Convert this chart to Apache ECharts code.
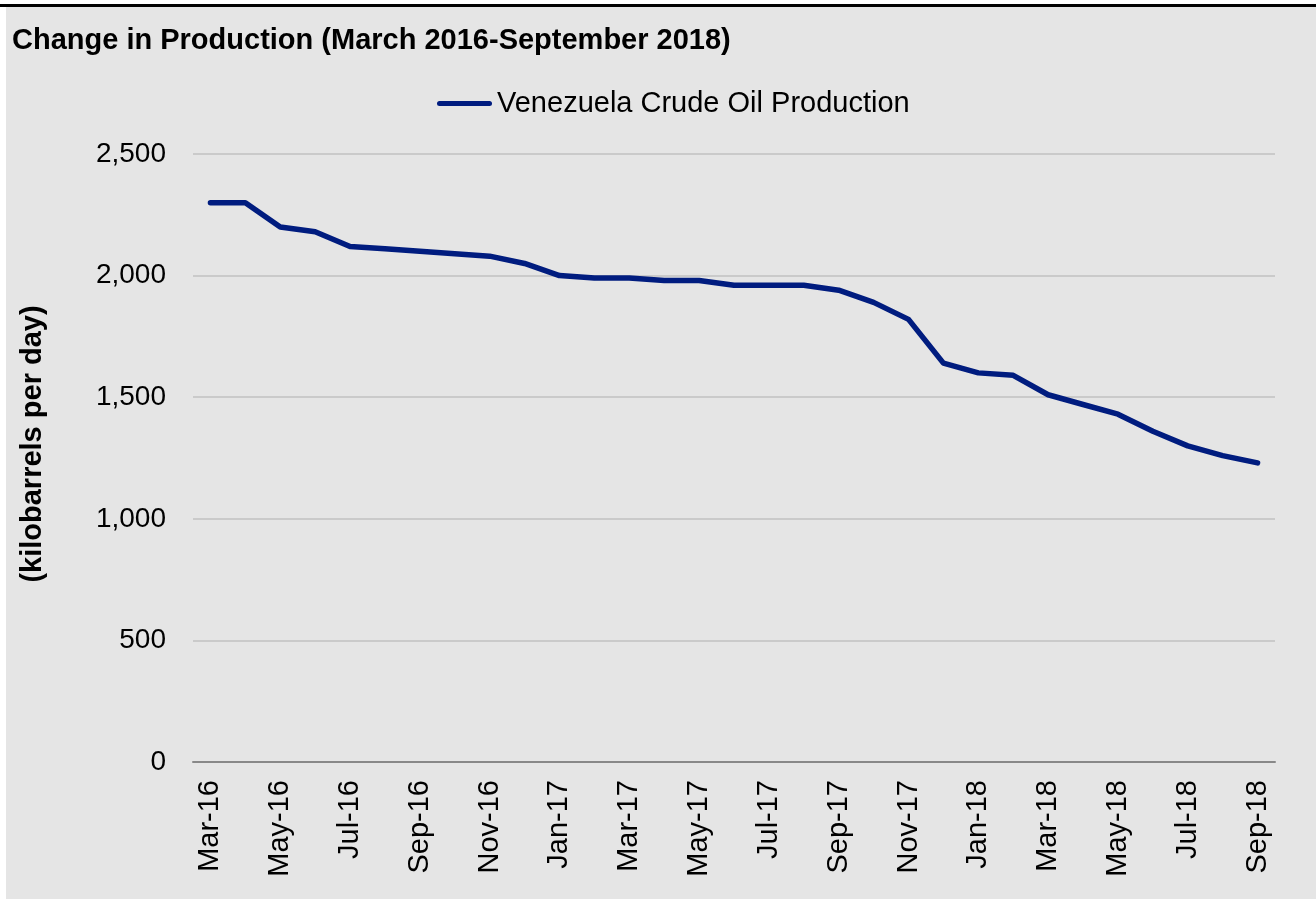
<!DOCTYPE html>
<html>
<head>
<meta charset="utf-8">
<title>Change in Production</title>
<script src="https://cdn.jsdelivr.net/npm/echarts@6/dist/echarts.min.js"></script>
<style>
  html, body { margin: 0; padding: 0; background: #fff; }
  #bg { position: absolute; left: 6px; top: 7px; right: 0; bottom: 1px; background: #e5e5e5; }
  #topline { position: absolute; left: 0; top: 4px; width: 1316px; height: 3px; background: #000; }
  #chart { position: absolute; left: 0; top: 0; width: 1316px; height: 900px; }
</style>
</head>
<body>
<div id="bg"></div>
<div id="topline"></div>
<div id="chart"></div>
<script>
// 月份（2016年3月 - 2018年9月）
var months = [
  "Mar-16", "Apr-16", "May-16", "Jun-16", "Jul-16", "Aug-16", "Sep-16", "Oct-16",
  "Nov-16", "Dec-16", "Jan-17", "Feb-17", "Mar-17", "Apr-17", "May-17", "Jun-17",
  "Jul-17", "Aug-17", "Sep-17", "Oct-17", "Nov-17", "Dec-17", "Jan-18", "Feb-18",
  "Mar-18", "Apr-18", "May-18", "Jun-18", "Jul-18", "Aug-18", "Sep-18"
];
// 委内瑞拉原油产量 (千桶/天)
var production = [
  2300, 2300, 2200, 2180, 2120, 2110, 2100, 2090,
  2080, 2050, 2000, 1990, 1990, 1980, 1980, 1960,
  1960, 1960, 1940, 1890, 1820, 1640, 1600, 1590,
  1510, 1470, 1430, 1360, 1300, 1260, 1230
];
var seriesName = "Venezuela Crude Oil Production";

var font = "Arial, 'Liberation Sans', sans-serif";
var lineColor = "#001c7f";

var chartInstance = echarts.init(document.getElementById("chart"));
var option = {
  backgroundColor: "transparent",
  textStyle: { fontFamily: font },
  title: {
    text: "Change in Production (March 2016-September 2018)",
    left: 7,
    top: 21,
    textStyle: { color: "#000", fontSize: 29, fontWeight: "bold", fontFamily: font }
  },
  legend: {
    left: 432,
    top: 84,
    // 图例只画一条粗线, 不要圆点
    icon: "path://M2.5,0 H52.5 A2.5,2.5 0 0 1 52.5,5 H2.5 A2.5,2.5 0 0 1 2.5,0 Z",
    itemWidth: 55,
    itemHeight: 5,
    itemStyle: { color: lineColor },
    textStyle: { color: "#000", fontSize: 29, fontFamily: font },
    data: [seriesName]
  },
  grid: {
    left: 193,
    right: 41,
    top: 154,
    bottom: 138
  },
  xAxis: {
    type: "category",
    data: months,
    boundaryGap: true,
    axisLine: { lineStyle: { color: "#888", width: 2 } },
    axisTick: { show: false },
    axisLabel: {
      interval: 1,
      rotate: 90,
      margin: 18,
      color: "#000",
      fontSize: 29,
      fontFamily: font
    }
  },
  yAxis: {
    type: "value",
    min: 0,
    max: 2500,
    interval: 500,
    name: "(kilobarrels per day)",
    nameLocation: "middle",
    nameGap: 146,
    nameRotate: 90,
    nameTextStyle: {
      color: "#000",
      fontSize: 29,
      fontWeight: "bold",
      fontFamily: font,
      padding: [0, 0, 0, 28]
    },
    axisLine: { show: false },
    axisTick: { show: false },
    splitLine: { lineStyle: { color: "#c0c0c0", width: 1.5 } },
    axisLabel: {
      margin: 27,
      color: "#000",
      fontSize: 28,
      fontFamily: font,
      formatter: function(v) {
        return v.toLocaleString("en-US");
      }
    }
  },
  series: [
    {
      name: seriesName,
      type: "line",
      data: production,
      symbol: "none",
      lineStyle: { color: lineColor, width: 5.5, cap: "round", join: "round" },
      itemStyle: { color: lineColor }
    }
  ]
};
chartInstance.setOption(option);
</script>
</body>
</html>
